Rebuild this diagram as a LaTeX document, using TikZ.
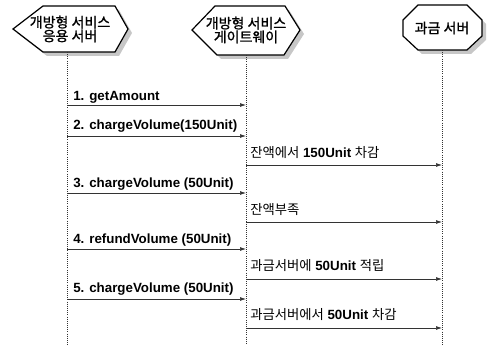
\documentclass[tikz,border=0pt]{standalone}
\usepackage{fontspec}
\setmainfont{Liberation Sans}
\newfontfamily\cjk{Noto Sans CJK KR}
\newfontfamily\cjkhead[FakeBold=1.2]{Noto Sans CJK KR}
\usetikzlibrary{arrows.meta}
\begin{document}
\begin{tikzpicture}[x=0.75pt,y=-0.75pt,
  shadowfill/.style={fill=black!22,draw=none},
  headbox/.style={draw=black,line width=0.9pt,fill=white},
  headtext/.style={align=center,font=\cjkhead\fontsize{10.5}{10.3}\selectfont,inner sep=0pt},
  lifeline/.style={draw=black!80,line width=0.6pt,densely dotted},
  msg/.style={draw=black!80,line width=0.55pt,-{Latex[length=4.5pt,width=3pt]}},
  lbl/.style={anchor=base west,inner sep=0pt,font=\bfseries\fontsize{10}{11}\selectfont},
  klbl/.style={anchor=base west,inner sep=0pt,font=\fontsize{10}{11}\selectfont}
]
\useasboundingbox (0,0) rectangle (489,345);
% header shapes: shadows
\fill[shadowfill] (17,33) -- (47,10) -- (119,10) -- (132,33) -- (119,56) -- (47,56) -- cycle;
\fill[shadowfill] (196,34) -- (219,10) -- (289,10) -- (304,34) -- (288,59) -- (221,59) -- cycle;
\fill[shadowfill] (422,9) -- (471,9) -- (486,24) -- (486,40) -- (471,54) -- (422,54) -- (407,40) -- (407,24) -- cycle;
% header shapes
\draw[headbox] (13,29) -- (43,6) -- (115,6) -- (128,29) -- (115,52) -- (43,52) -- cycle;
\draw[headbox] (192,30) -- (215,6) -- (285,6) -- (300,30) -- (284,55) -- (217,55) -- cycle;
\draw[headbox] (418,5) -- (467,5) -- (482,20) -- (482,36) -- (467,50) -- (418,50) -- (403,36) -- (403,20) -- cycle;
\node[headtext] (hA) at (70,29) {개방형 서비스\\응용 서버};
\node[headtext] (hB) at (246,30) {개방형 서비스\\게이트웨이};
\node[headtext] (hC) at (442,28) {과금 서버};
% lifelines
\coordinate (LA0) at (67,52);  \coordinate (LA1) at (67,345);
\coordinate (LB0) at (246,55); \coordinate (LB1) at (246,345);
\coordinate (LC0) at (442,50); \coordinate (LC1) at (442,345);
\draw[lifeline] (LA0) -- (LA1);
\draw[lifeline] (LB0) -- (LB1);
\draw[lifeline] (LC0) -- (LC1);
% message end points
\foreach \n/\y in {1/105,2/136,4/193,6/249,8/299}{
  \coordinate (a\n) at (67,\y); \coordinate (b\n) at (246,\y);}
\foreach \n/\y in {3/165,5/222,7/279,9/328}{
  \coordinate (b\n) at (246,\y); \coordinate (c\n) at (442,\y);}
% messages
\draw[msg] (a1) -- (b1);
\draw[msg] (a2) -- (b2);
\draw[msg] (b3) -- (c3);
\draw[msg] (a4) -- (b4);
\draw[msg] (b5) -- (c5);
\draw[msg] (a6) -- (b6);
\draw[msg] (b7) -- (c7);
\draw[msg] (a8) -- (b8);
\draw[msg] (b9) -- (c9);
% labels
\node[lbl] (t1) at (73,101) {1. getAmount};
\node[lbl] (t2) at (73,130) {2. chargeVolume(150Unit)};
\node[klbl] (t3) at (250,158) {{\cjk 잔액에서} \textbf{150Unit} {\cjk 차감}};
\node[lbl] (t4) at (73,188) {3. chargeVolume (50Unit)};
\node[klbl] (t5) at (250,215) {{\cjk 잔액부족}};
\node[lbl] (t6) at (73,244) {4. refundVolume (50Unit)};
\node[klbl] (t7) at (250,271) {{\cjk 과금서버에} \textbf{50Unit} {\cjk 적립}};
\node[lbl] (t8) at (73,293) {5. chargeVolume (50Unit)};
\node[klbl] (t9) at (250,320) {{\cjk 과금서버에서} \textbf{50Unit} {\cjk 차감}};
\end{tikzpicture}
\end{document}
